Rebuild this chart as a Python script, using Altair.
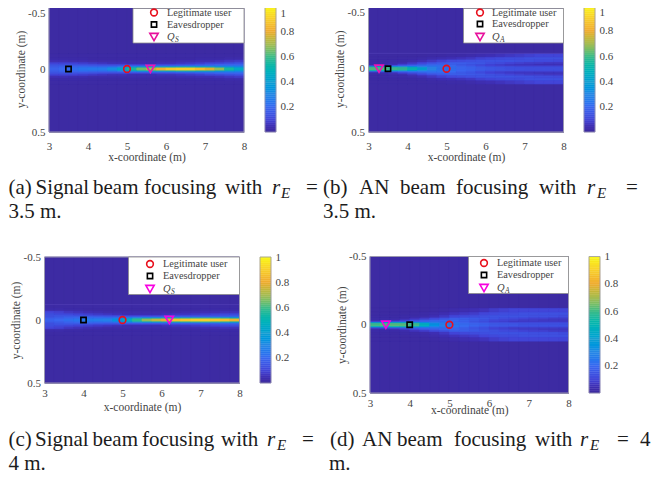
import altair as alt

W, H = 649, 462
SERIF = "Liberation Serif"
GRAY = "#444444"
FRAME = "#9a97b0"

color_stops = [0, 0.05, 0.1, 0.2, 0.3, 0.4, 0.5, 0.6, 0.7, 0.8, 0.9, 1]
color_hex = ["#3c2a9e", "#3f2fb4", "#4245d8", "#3a68f0", "#2a88e6", "#1ba0d2", "#0cb4b4",
             "#3dbc88", "#a6bc52", "#f0ac32", "#f8cf2c", "#f8f818"]
cs = alt.Scale(domain=color_stops, range=color_hex)

# half-height edges of the beam rows (m) and column edges (m)
y_edges = [0, 0.009, 0.017, 0.026, 0.036, 0.05, 0.07, 0.09, 0.12, 0.5]
x_edges = [3 + i * 0.25 for i in range(21)]

beam_a = [
    [.18,.20,.22,.24,.25,.26,.32,.42,.55,.65,.72,.82,.88,.90,.90,.85,.78,.68,.55,.45],
    [.17,.19,.20,.22,.22,.22,.25,.30,.38,.42,.48,.50,.52,.55,.55,.52,.50,.42,.38,.33],
    [.16,.17,.18,.18,.17,.17,.17,.18,.20,.22,.22,.22,.22,.24,.25,.25,.25,.25,.26,.26],
    [.14,.14,.14,.14,.13,.12,.11,.11,.10,.10,.10,.11,.12,.13,.14,.16,.18,.20,.20,.20],
    [.10,.10,.10,.09,.08,.07,.06,.06,.05,.05,.05,.06,.06,.07,.08,.09,.11,.12,.14,.15],
    [.05,.05,.04,.04,.03,.03,.03,.03,.03,.03,.03,.03,.03,.04,.04,.05,.05,.06,.07,.08],
    [.02,.02,.02,.02,.015,.015,.015,.015,.015,.015,.015,.015,.015,.015,.015,.02,.02,.02,.03,.03],
    [.015]*20,
    [.012]*20,
]
beam_b = [
    [.62,.62,.60,.58,.52,.42,.30,.24,.22,.20,.19,.17,.16,.15,.14,.14,.13,.13,.13,.13],
    [.45,.45,.42,.40,.35,.30,.26,.23,.22,.20,.18,.16,.14,.13,.13,.12,.12,.12,.12,.12],
    [.12,.14,.16,.18,.20,.22,.22,.22,.20,.17,.15,.12,.10,.09,.08,.08,.08,.08,.08,.08],
    [.03,.04,.06,.10,.14,.17,.20,.20,.19,.17,.15,.13,.10,.09,.08,.07,.07,.06,.06,.06],
    [.02,.02,.03,.04,.07,.10,.13,.16,.17,.17,.16,.15,.13,.12,.10,.09,.08,.08,.07,.07],
    [.015,.015,.02,.02,.03,.05,.07,.09,.11,.12,.13,.14,.14,.14,.14,.13,.13,.12,.12,.11],
    [.012,.012,.012,.015,.015,.02,.03,.04,.05,.06,.07,.09,.10,.11,.12,.12,.13,.13,.13,.13],
    [.012,.012,.012,.012,.012,.012,.015,.015,.02,.02,.03,.04,.05,.06,.07,.08,.09,.10,.10,.10],
    [.012]*20,
]
beam_c = [
    [.18,.20,.22,.24,.26,.27,.28,.34,.46,.58,.68,.74,.80,.86,.88,.90,.90,.88,.86,.82],
    [.17,.18,.20,.21,.22,.22,.23,.27,.33,.40,.44,.46,.50,.54,.56,.58,.60,.58,.56,.52],
    [.14,.16,.18,.19,.20,.19,.18,.18,.19,.20,.20,.20,.20,.21,.21,.22,.22,.23,.23,.24],
    [.14,.15,.15,.14,.13,.12,.12,.11,.10,.10,.10,.10,.11,.12,.13,.13,.14,.14,.15,.16],
    [.13,.12,.11,.10,.09,.08,.07,.06,.05,.05,.05,.05,.06,.07,.07,.08,.09,.10,.11,.12],
    [.10,.09,.07,.06,.05,.04,.03,.03,.03,.03,.03,.03,.03,.03,.04,.04,.05,.05,.06,.06],
    [.03,.03,.02,.02,.015,.015,.015,.015,.015,.015,.015,.015,.015,.015,.015,.015,.02,.02,.02,.02],
    [.015]*20,
    [.012]*20,
]
beam_d = [
    [.60,.62,.62,.62,.60,.48,.34,.28,.24,.21,.19,.18,.16,.15,.15,.14,.14,.14,.14,.14],
    [.42,.44,.46,.46,.42,.34,.28,.25,.23,.20,.17,.15,.13,.13,.12,.12,.12,.12,.12,.12],
    [.10,.12,.14,.16,.18,.20,.22,.22,.20,.18,.15,.13,.10,.09,.08,.08,.08,.08,.08,.08],
    [.03,.03,.05,.08,.12,.16,.18,.20,.20,.18,.16,.14,.11,.10,.09,.08,.08,.07,.07,.07],
    [.02,.02,.02,.03,.06,.08,.11,.14,.17,.17,.16,.15,.14,.12,.11,.10,.09,.09,.08,.08],
    [.015,.015,.015,.02,.02,.03,.05,.07,.10,.11,.12,.13,.14,.14,.14,.14,.13,.13,.13,.12],
    [.012,.012,.012,.012,.015,.02,.03,.04,.06,.07,.08,.10,.11,.12,.12,.13,.13,.13,.13,.13],
    [.012,.012,.012,.012,.012,.012,.015,.02,.03,.04,.05,.06,.08,.09,.10,.10,.10,.10,.10,.10],
    [.012]*20,
]

user_x = 5
eve_x = [3.5, 3.5, 4, 4]
q_x = [5.6, 3.27, 6.2, 3.4]
q_sub = ["S", "A", "S", "A"]

# page-pixel frames: plot left/right/top/bottom, colorbar left/right/top/bottom
panels = [
    dict(beam=beam_a, L=49, R=244, T=6, B=132, cL=265, cR=276, cT=6, cB=132, ytx=21, xlab=146, xt=157,
         box=(133, 244, 8.5, 43), mk=154, tx=167, rows=(12.5, 24.5, 37), line=False, q="#f012b4", lc="#e8109c"),
    dict(beam=beam_b, L=368.5, R=563.5, T=5.5, B=132, cL=584, cR=595, cT=5.5, cB=132, ytx=340, xlab=146, xt=157,
         box=(463.5, 563.5, 8.5, 43), mk=480, tx=492, rows=(12.5, 24, 37), line=True, q="#f012b4", lc="#e8109c"),
    dict(beam=beam_c, L=44.5, R=239.5, T=257, B=383, cL=260, cR=271, cT=257, cB=383, ytx=16, xlab=393, xt=407,
         box=(128.5, 239.5, 257, 294.5), mk=150, tx=163, rows=(264, 276, 289), line=True, q="#f800e0", lc="#f800e0"),
    dict(beam=beam_d, L=370, R=568.5, T=256.5, B=393, cL=589, cR=600, cT=256.5, cB=393, ytx=342, xlab=403, xt=410,
         box=(468.5, 568.5, 256.5, 293.5), mk=484, tx=497, rows=(263, 275, 288), line=False, q="#f800e0", lc="#f800e0"),
]

ONE = alt.Data(values=[{"k": 1}])


def text(s, x, y, size, color=GRAY, style="normal", align="left", baseline="alphabetic"):
    return alt.Chart(ONE).mark_text(
        text=s, font=SERIF, fontSize=size, fontStyle=style, color=color, align=align, baseline=baseline
    ).encode(x=alt.value(x - 8), y=alt.value(y - 8))


def panel(i, p):
    rows = []
    for r in range(len(p["beam"]) - 1, -1, -1):
        for c, v in enumerate(p["beam"][r]):
            x0, x1 = x_edges[c], x_edges[c + 1]
            y0, y1 = y_edges[r], y_edges[r + 1]
            rows.append({"x0": x0, "x1": x1, "y0": y0, "y1": y1, "v": v})
            rows.append({"x0": x0, "x1": x1, "y0": -y1, "y1": -y0, "v": v})

    L, R, T, B = p["L"] - 8, p["R"] - 8, p["T"] - 8, p["B"] - 8
    xscale = alt.Scale(domain=[3, 8], range=[L, R], nice=False, zero=False)
    yscale = alt.Scale(domain=[-0.5, 0.5], range=[T, B], nice=False, zero=False)
    yoff = {"condition": {"test": "datum.value < 0", "value": 7}, "value": 0} if p["T"] < 12 else 0
    xaxis = alt.Axis(orient="bottom", offset=B - H, values=[3, 4, 5, 6, 7, 8], grid=False, ticks=False,
                     domain=True, domainColor=FRAME, labelFont=SERIF, labelFontSize=11, labelColor=GRAY,
                     labelPadding=p["xlab"] - p["B"] - 6, labelFlush=False, labelOverlap=False,
                     title="x-coordinate (m)", titleFont=SERIF, titleFontSize=11.5, titleFontWeight="normal",
                     titleColor=GRAY, titleX=(L + R) / 2, titleY=p["xt"] - p["B"], titleBaseline="middle",
                     titleAlign="center", titleAngle=0)
    yaxis = alt.Axis(orient="left", offset=-L, values=[-0.5, 0, 0.5], grid=False, ticks=False,
                     labelExpr="datum.value < 0 ? '-0.5' : (datum.value > 0 ? '0.5' : '0')",
                     labelOffset=yoff,
                     domain=True, domainColor=FRAME, labelFont=SERIF, labelFontSize=11, labelColor=GRAY,
                     labelPadding=4, labelFlush=False, labelOverlap=False,
                     title="y-coordinate (m)", titleFont=SERIF, titleFontSize=11.5, titleFontWeight="normal",
                     titleColor=GRAY, titleX=p["ytx"] - 8 - L, titleY=(T + B) / 2, titleBaseline="middle",
                     titleAlign="center", titleAngle=270)

    def X(f):
        return alt.X(f, type="quantitative", scale=xscale, axis=xaxis)

    def Y(f):
        return alt.Y(f, type="quantitative", scale=yscale, axis=yaxis)

    back = alt.Chart(alt.Data(values=[{"x0": 3, "x1": 8, "y0": -0.5, "y1": 0.5, "v": 0.012}])).mark_rect().encode(
        x=X("x0:Q"), x2="x1:Q", y=Y("y0:Q"), y2="y1:Q",
        color=alt.Color("v:Q", scale=cs, legend=None),
    )
    heat = alt.Chart(alt.Data(values=rows)).mark_rect(strokeWidth=0.6).encode(
        x=X("x0:Q"), x2="x1:Q", y=Y("y0:Q"), y2="y1:Q",
        color=alt.Color("v:Q", scale=cs, legend=None),
        stroke=alt.Stroke("v:Q", scale=cs, legend=None),
    )
    frame = alt.Chart(alt.Data(values=[{"x0": 3, "x1": 8, "y0": -0.5, "y1": 0.5}])).mark_rect(
        fillOpacity=0, stroke=FRAME, strokeWidth=1
    ).encode(x=X("x0:Q"), x2="x1:Q", y=Y("y0:Q"), y2="y1:Q")

    layers = [back, heat]
    if p["line"]:
        layers.append(
            alt.Chart(alt.Data(values=[{"x0": 3, "x1": 8, "y": -0.122}])).mark_rule(
                color="#4f3cb4", strokeWidth=0.8
            ).encode(x=X("x0:Q"), x2="x1:Q", y=Y("y:Q"))
        )
    layers.append(frame)
    pts = [("circle", user_x, "#e8101c", 45), ("square", eve_x[i], "#000000", 28),
           ("triangle-down", q_x[i], p["q"], 70)]
    for shape, xv, col, size in pts:
        layers.append(
            alt.Chart(alt.Data(values=[{"x": xv, "y": 0}])).mark_point(
                shape=shape, filled=False, stroke=col, strokeWidth=1.6, size=size, opacity=1
            ).encode(x=X("x:Q"), y=Y("y:Q"))
        )
    return alt.layer(*layers)


def colorbar(p):
    n = 64
    rows = [{"x0": 0, "x1": 1, "y0": k / n, "y1": (k + 1) / n, "v": (k + 0.5) / n} for k in range(n)]
    xs = alt.Scale(domain=[0, 1], range=[p["cL"] - 8, p["cR"] - 8], nice=False, zero=False)
    ys = alt.Scale(domain=[0, 1], range=[p["cB"] - 8, p["cT"] - 8], nice=False, zero=False)
    yoff = {"condition": {"test": "datum.value == 1", "value": 7}, "value": 0} if p["cT"] < 12 else 0
    yaxis = alt.Axis(orient="right", offset=p["cR"] - 8 - W, values=[0.2, 0.4, 0.6, 0.8, 1], format="~g",
                     grid=False, ticks=False, domain=False, labelFont=SERIF, labelFontSize=11, labelColor=GRAY,
                     labelOffset=yoff,
                     labelPadding=4, labelFlush=False, labelOverlap=False, title=None)
    bar = alt.Chart(alt.Data(values=rows)).mark_rect(strokeWidth=0.4).encode(
        x=alt.X("x0:Q", scale=xs, axis=None), x2="x1:Q",
        y=alt.Y("y0:Q", scale=ys, axis=yaxis), y2="y1:Q",
        color=alt.Color("v:Q", scale=cs, legend=None),
        stroke=alt.Stroke("v:Q", scale=cs, legend=None),
    )
    edge = alt.Chart(alt.Data(values=[{"x0": 0, "x1": 1, "y0": 0, "y1": 1}])).mark_rect(
        fillOpacity=0, stroke=FRAME, strokeWidth=0.8
    ).encode(
        x=alt.X("x0:Q", scale=xs, axis=None), x2="x1:Q",
        y=alt.Y("y0:Q", scale=ys, axis=yaxis), y2="y1:Q",
    )
    return alt.layer(bar, edge)


def legend(i, p):
    x0, x1, y0, y1 = p["box"]
    out = [
        alt.Chart(ONE).mark_rect(fill="white", stroke="#8c8c8c", strokeWidth=0.8).encode(
            x=alt.value(x0 - 8), x2=alt.value(x1 - 8), y=alt.value(y0 - 8), y2=alt.value(y1 - 8)
        )
    ]
    marks = [("circle", "#e8101c", 45), ("square", "#000000", 28), ("triangle-down", p["lc"], 70)]
    for (shape, col, size), ry in zip(marks, p["rows"]):
        out.append(
            alt.Chart(ONE).mark_point(shape=shape, filled=False, stroke=col, strokeWidth=1.6, size=size, opacity=1)
            .encode(x=alt.value(p["mk"] - 8), y=alt.value(ry - 8))
        )
    t = p["tx"]
    out.append(text("Legitimate user", t, p["rows"][0] + 3, 10.3))
    out.append(text("Eavesdropper", t, p["rows"][1] + 3, 10.3))
    out.append(text("Q", t, p["rows"][2] + 3, 10.5, style="italic"))
    out.append(text(q_sub[i], t + 8, p["rows"][2] + 5, 7.5, style="italic"))
    return out


FS = 21
captions = [
    ("(a)", 8.5, 194, "normal", FS), ("Signal", 35.5, 194, "normal", FS),
    ("beam", 93, 194, "normal", FS), ("focusing", 144, 194, "normal", FS),
    ("with", 225, 194, "normal", FS), ("r", 272, 194, "italic", FS),
    ("E", 281, 198, "italic", 15), ("=", 306, 194, "normal", FS),
    ("3.5 m.", 8.5, 217.5, "normal", FS),
    ("(b)", 323, 194, "normal", FS), ("AN", 359, 194, "normal", FS),
    ("beam", 400, 194, "normal", FS), ("focusing", 456, 194, "normal", FS),
    ("with", 539, 194, "normal", FS), ("r", 587, 194, "italic", FS),
    ("E", 597, 198, "italic", 15), ("=", 626, 194, "normal", FS),
    ("3.5 m.", 323, 217.5, "normal", FS),
    ("(c)", 8.5, 446, "normal", FS), ("Signal", 35, 446, "normal", FS),
    ("beam", 92.5, 446, "normal", FS), ("focusing", 142, 446, "normal", FS),
    ("with", 221, 446, "normal", FS), ("r", 267, 446, "italic", FS),
    ("E", 277, 450, "italic", 15), ("=", 302, 446, "normal", FS),
    ("4 m.", 8.5, 469.5, "normal", FS),
    ("(d)", 330, 446, "normal", FS), ("AN", 362, 446, "normal", FS),
    ("beam", 397, 446, "normal", FS), ("focusing", 454, 446, "normal", FS),
    ("with", 535, 446, "normal", FS), ("r", 580, 446, "italic", FS),
    ("E", 590, 450, "italic", 15), ("=", 617, 446, "normal", FS),
    ("4", 640, 446, "normal", FS),
    ("m.", 329, 469.5, "normal", FS),
]

layers = []
for i, p in enumerate(panels):
    layers.append(panel(i, p))
    layers.append(colorbar(p))
for i, p in enumerate(panels):
    layers.extend(legend(i, p))
for s, x, y, style, size in captions:
    layers.append(text(s, x, y, size, color="#1c1c1c", style=style))

chart = alt.layer(*layers).resolve_scale(x="independent", y="independent").properties(
    width=W, height=H, padding=0, autosize=alt.AutoSizeParams(type="none"), background="white"
).configure_view(stroke=None)

chart.save("out.html", embed_options={"renderer": "svg", "actions": False})
